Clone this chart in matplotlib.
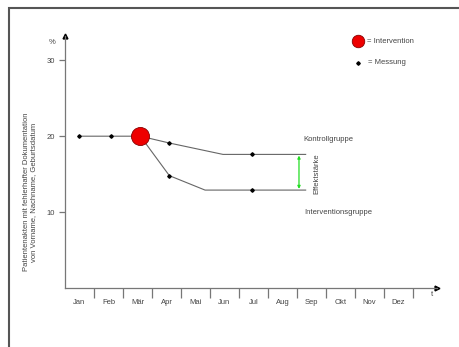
import matplotlib.pyplot as plt
from matplotlib.patches import Rectangle

plt.rcParams['font.family'] = ['Liberation Sans', 'DejaVu Sans']

# data
months = ['Jan', 'Feb', 'Mär', 'Apr', 'Mai', 'Jun', 'Jul', 'Aug', 'Sep', 'Okt', 'Nov', 'Dez']
kontroll_x = [0.47, 1.59, 2.6, 3.6, 5.45, 6.45, 8.3]
kontroll_y = [20, 20, 20, 19.1, 17.6, 17.6, 17.6]
interv_x = [2.6, 3.6, 4.83, 6.45, 8.3]
interv_y = [20, 14.8, 12.9, 12.9, 12.9]
mess_x = [0.47, 1.59, 3.6, 3.6, 6.45, 6.45]
mess_y = [20, 20, 19.1, 14.8, 17.6, 12.9]
intervention_x = [2.6]
intervention_y = [20]
effekt = (8.07, 17.45, 13.05)

W, H = 459, 347
fig = plt.figure(figsize=(W / 100, H / 100), dpi=100)
ax = fig.add_axes([65 / W, (H - 288) / H, (437 - 65) / W, (288 - 36) / H])
ax.set_xlim(0, 12.83)
ax.set_ylim(0, 33.2)

grey = '#777777'
txt = '#444444'
for s in ['top', 'right']:
    ax.spines[s].set_visible(False)
for s in ['left', 'bottom']:
    ax.spines[s].set_color(grey)
    ax.spines[s].set_linewidth(0.9)

ax.set_xticks(range(1, 13))
ax.set_xticklabels([])
ax.set_xticks([i + 0.5 for i in range(12)], months, minor=True)
ax.tick_params(axis='x', which='major', length=7, color=grey, width=0.9)
ax.tick_params(axis='x', which='minor', length=0, labelsize=5.5, labelcolor=txt, pad=8)
ax.set_yticks([10, 20, 30])
ax.tick_params(axis='y', length=4, color=grey, width=0.9, labelsize=5.5, labelcolor=txt, pad=3)

# axis arrows
ax.plot([12.83], [0], marker='>', color='black', markersize=3.5, clip_on=False)
ax.plot([0], [33.2], marker='^', color='black', markersize=3.5, clip_on=False)
ax.text(-0.45, 32.4, '%', fontsize=5.5, color=txt, ha='center', va='center')
ax.text(12.66, -0.8, 't', fontsize=5.5, color=txt, ha='center', va='center', clip_on=False)

# lines
ax.plot(kontroll_x, kontroll_y, color='#666666', lw=0.8)
ax.plot(interv_x, interv_y, color='#666666', lw=0.8)
ax.plot(mess_x, mess_y, 'D', color='black', markersize=1.8, linestyle='none')
ax.plot(intervention_x, intervention_y, 'o', color='#ee0000', markeredgecolor='#880000',
        markeredgewidth=0.6, markersize=13)

# effect size arrow
ax.annotate('', xy=(effekt[0], effekt[2]), xytext=(effekt[0], effekt[1]),
            arrowprops=dict(arrowstyle='<|-|>', color='#22dd22', lw=0.9,
                            mutation_scale=4, shrinkA=0, shrinkB=0))
ax.text(8.69, 15.0, 'Effektstärke', rotation=90, fontsize=5.5, color=txt,
        ha='center', va='center')
ax.text(9.07, 19.5, 'Kontrollgruppe', fontsize=5.5, color=txt, ha='center', va='center')
ax.text(9.41, 10.0, 'Interventionsgruppe', fontsize=5.5, color=txt, ha='center', va='center')

# legend
ax.plot([10.1], [32.5], 'o', color='#ee0000', markeredgecolor='#880000',
        markeredgewidth=0.6, markersize=9, clip_on=False)
ax.plot([10.1], [29.7], 'D', color='black', markersize=1.8, clip_on=False)
ax.text(10.42, 32.5, '= Intervention', fontsize=5.5, color=txt, va='center')
ax.text(10.45, 29.7, '= Messung', fontsize=5.5, color=txt, va='center')

# y label
fig.text(30 / W, 1 - 192 / H,
         'Patientenakten mit fehlerhafter Dokumentation\nvon Vorname, Nachname, Geburtsdatum',
         rotation=90, fontsize=5.5, color=txt, ha='center', va='center',
         multialignment='center', linespacing=1.0)

# frame and clipped title remnant
fig.add_artist(Rectangle((9 / W, -0.1), 2, 1.1 - 8 / H, transform=fig.transFigure,
                         fill=False, ec='#555555', lw=1.5))
fig.text(152 / W, 1 + 3.5 / H, 'g', fontsize=12, color='#222222', va='baseline')

fig.savefig('out.png', dpi=100)
